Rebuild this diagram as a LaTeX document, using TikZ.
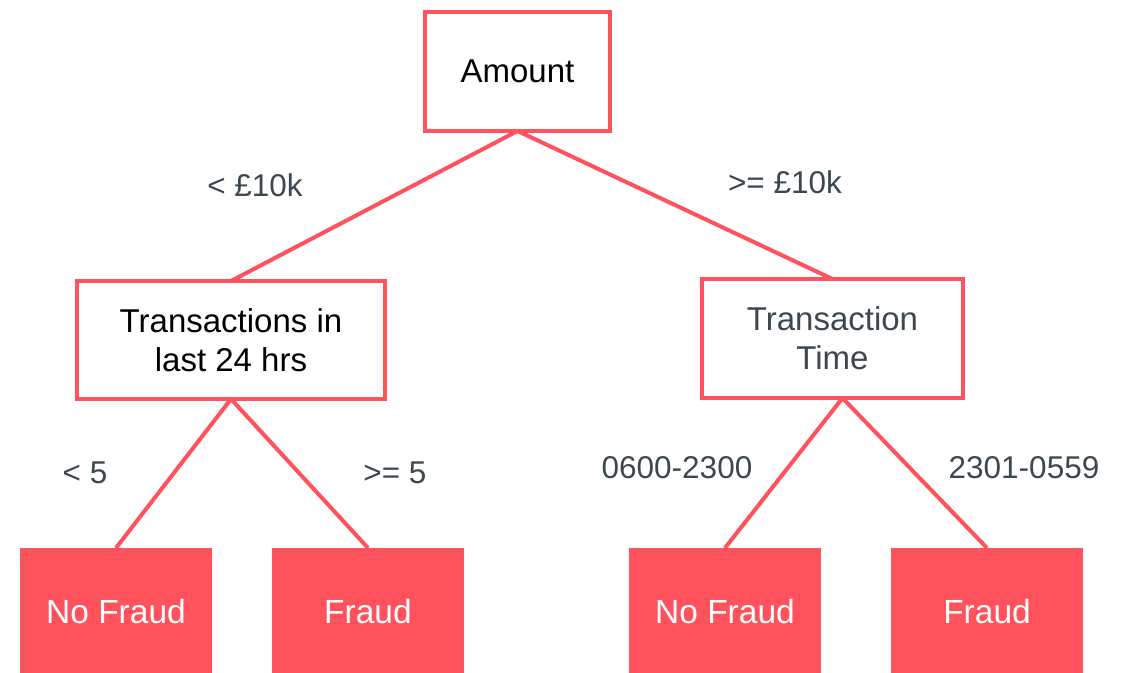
\documentclass[tikz,border=0pt]{standalone}
\usepackage{fontspec}
\setmainfont{Liberation Sans}
\definecolor{fred}{HTML}{FF525D}
\definecolor{fgray}{HTML}{3C4850}
\begin{document}
\begin{tikzpicture}[x=1pt,y=-1pt,
  decision/.style={draw=fred,line width=4.5pt,fill=white,inner sep=0pt,outer sep=0pt,align=center,font=\fontsize{33}{39}\selectfont},
  leaf/.style={fill=fred,inner sep=0pt,outer sep=0pt,minimum width=192pt,minimum height=128pt,text=white,font=\fontsize{33.5}{39}\selectfont},
  edge/.style={draw=fred,line width=4pt},
  lbl/.style={text=fgray,font=\fontsize{31.5}{37}\selectfont,inner sep=0pt}]
\useasboundingbox (0,0) rectangle (1124,672);
\node[decision,minimum width=185pt,minimum height=119pt] (amount) at (517.5,71.5) {Amount};
\node[decision,minimum width=308pt,minimum height=118pt] (trans) at (231,340) {Transactions in\\last 24 hrs};
\node[decision,minimum width=261pt,minimum height=119pt,text=fgray] (time) at (832.5,338.5) {Transaction\\Time};
\node[leaf] (nf1) at (116,612) {No Fraud};
\node[leaf] (f1) at (368,612) {Fraud};
\node[leaf] (nf2) at (725,612) {No Fraud};
\node[leaf] (f2) at (987,612) {Fraud};
\coordinate (tb) at ([xshift=10pt]time.south);
\draw[edge] (amount.south) -- (trans.north);
\draw[edge] (amount.south) -- (time.north);
\draw[edge] (trans.south) -- (nf1.north);
\draw[edge] (trans.south) -- (f1.north);
\draw[edge] (tb) -- (nf2.north);
\draw[edge] (tb) -- (f2.north);
\node[lbl] (l1) at (255,185) {< £10k};
\node[lbl] (l2) at (785,182) {>= £10k};
\node[lbl] (l3) at (85,473) {< 5};
\node[lbl] (l4) at (395,473) {>= 5};
\node[lbl] (l5) at (677,468) {0600-2300};
\node[lbl] (l6) at (1024,468) {2301-0559};
\end{tikzpicture}
\end{document}
